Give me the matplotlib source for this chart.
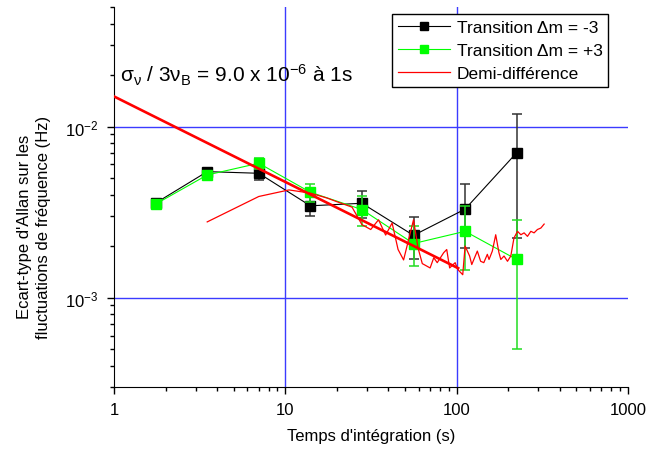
import numpy as np
import matplotlib
matplotlib.use("Agg")
import matplotlib.pyplot as plt
from matplotlib.lines import Line2D
from matplotlib.ticker import LogLocator, FixedFormatter, FixedLocator, NullFormatter

plt.rcParams['font.family'] = ['Liberation Sans', 'DejaVu Sans']
plt.rcParams['mathtext.fontset'] = 'custom'
plt.rcParams['mathtext.rm'] = 'Liberation Sans'
plt.rcParams['mathtext.it'] = 'Liberation Sans'
plt.rcParams['mathtext.default'] = 'regular'

# integration times (s)
tau = [1.75, 3.5, 7, 14, 28, 56, 112, 224]

# transition dm = -3
minus3 = [3.57e-3, 5.45e-3, 5.33e-3, 3.44e-3, 3.56e-3, 2.31e-3, 3.29e-3, 7.03e-3]
minus3_err = [0.1e-3, 0.15e-3, 0.46e-3, 0.46e-3, 0.65e-3, 0.63e-3, 1.35e-3, 4.8e-3]

# transition dm = +3
plus3 = [3.52e-3, 5.21e-3, 6.1e-3, 4.13e-3, 3.27e-3, 2.07e-3, 2.44e-3, 1.67e-3]
plus3_err = [0.1e-3, 0.15e-3, 0.48e-3, 0.5e-3, 0.64e-3, 0.55e-3, 1.0e-3, 1.17e-3]

# half difference
tau_diff = [3.5, 7, 10.5, 14, 17.5, 21, 24.5, 28, 31.5, 35, 38.5, 42, 45.5, 49,
            56, 59.5, 63, 70, 73.5, 77, 84, 87.5, 91, 98, 101.5, 108.5, 112,
            119, 122.5, 132, 138, 144, 151, 154.5, 161.5, 169, 176.5, 181,
            189, 198, 207, 216, 226.5, 237, 247.5, 259, 271, 283, 296, 310, 324]
half_diff = [2.77, 3.90, 4.26, 4.08, 3.82, 3.57, 3.38, 2.67, 2.50, 2.85, 2.32,
             2.73, 1.91, 1.66, 2.85, 1.95, 1.58, 1.49, 1.71, 1.60, 1.83, 1.91,
             1.49, 1.60, 1.46, 1.36, 2.00, 1.75, 1.56, 1.87, 1.63, 1.60, 1.79,
             1.67, 1.87, 2.33, 1.83, 1.67, 1.75, 1.63, 1.75, 2.23, 2.44, 2.33,
             2.39, 2.28, 2.44, 2.39, 2.50, 2.55, 2.69]
half_diff = [v * 1e-3 for v in half_diff]

# tau^-1/2 fit
tau_fit = [1, 102]
fit = [1.5e-2, 1.485e-3]

fig = plt.figure(figsize=(6.49, 4.56), dpi=100)
ax = fig.add_axes([114 / 649, 68 / 456, 514 / 649, 380 / 456])
ax.set_xscale('log')
ax.set_yscale('log')
ax.set_xlim(1, 1000)
ax.set_ylim(3e-4, 5e-2)

grid_col = '#3b3bff'
for gx in [10, 100]:
    ax.axvline(gx, color=grid_col, lw=1, zorder=0)
for gy in [1e-2, 1e-3]:
    ax.axhline(gy, color=grid_col, lw=1, zorder=0)

ax.errorbar(tau, minus3, yerr=minus3_err, fmt='-s', color='black',
            ecolor='#333333', lw=0.8, ms=7, capsize=3.5, elinewidth=1.1,
            capthick=1.1, zorder=2)
ax.errorbar(tau, plus3, yerr=plus3_err, fmt='-s', color='#00ff00',
            ecolor='#22dd22', lw=0.8, ms=7, capsize=3.5, elinewidth=1.1,
            capthick=1.1, zorder=3)
ax.plot(tau_diff, half_diff, color='red', lw=0.9, zorder=4)
ax.plot(tau_fit, fit, color='red', lw=1.9, zorder=5)

ax.text(0.012, 0.803,
        '$\\sigma_\\nu$ / 3$\\nu_B$ = 9.0 x 10$^{-6}$ \u00e0 1s',
        transform=ax.transAxes, fontsize=15, va='baseline', ha='left')

ax.spines['top'].set_visible(False)
ax.spines['right'].set_visible(False)
ax.xaxis.set_major_locator(FixedLocator([1, 10, 100, 1000]))
ax.xaxis.set_major_formatter(FixedFormatter(['1', '10', '100', '1000']))
ax.xaxis.set_minor_locator(LogLocator(base=10, subs=np.arange(2, 10)))
ax.xaxis.set_minor_formatter(NullFormatter())
ax.yaxis.set_minor_locator(LogLocator(base=10, subs=np.arange(2, 10)))
ax.yaxis.set_minor_formatter(NullFormatter())
ax.tick_params(which='major', direction='out', length=5, width=1,
               labelsize=12, pad=6)
ax.tick_params(which='minor', direction='out', length=3, width=1)

ax.set_xlabel("Temps d'int\u00e9gration (s)", fontsize=12, labelpad=8)
fig.text(34 / 649, 1 - 227 / 456,
         "Ecart-type d'Allan sur les\nfluctuations de fr\u00e9quence (Hz)",
         rotation=90, ha='center', va='center', multialignment='center',
         fontsize=12, linespacing=1.3)

handles = [
    Line2D([], [], color='black', marker='s', ms=6, lw=0.8),
    Line2D([], [], color='#00ff00', marker='s', ms=6, lw=0.8),
    Line2D([], [], color='red', lw=0.9),
]
labels = ['Transition \u0394m = -3', 'Transition \u0394m = +3',
          'Demi-diff\u00e9rence']
leg = ax.legend(handles, labels, loc='upper right',
                bbox_to_anchor=(0.962, 0.982), fontsize=12.5,
                frameon=True, fancybox=False, edgecolor='black',
                framealpha=1, borderpad=0.35, labelspacing=0.45,
                handlelength=3.0, handletextpad=0.35, borderaxespad=0)
leg.get_frame().set_linewidth(1)

fig.savefig('out.png', dpi=100)
